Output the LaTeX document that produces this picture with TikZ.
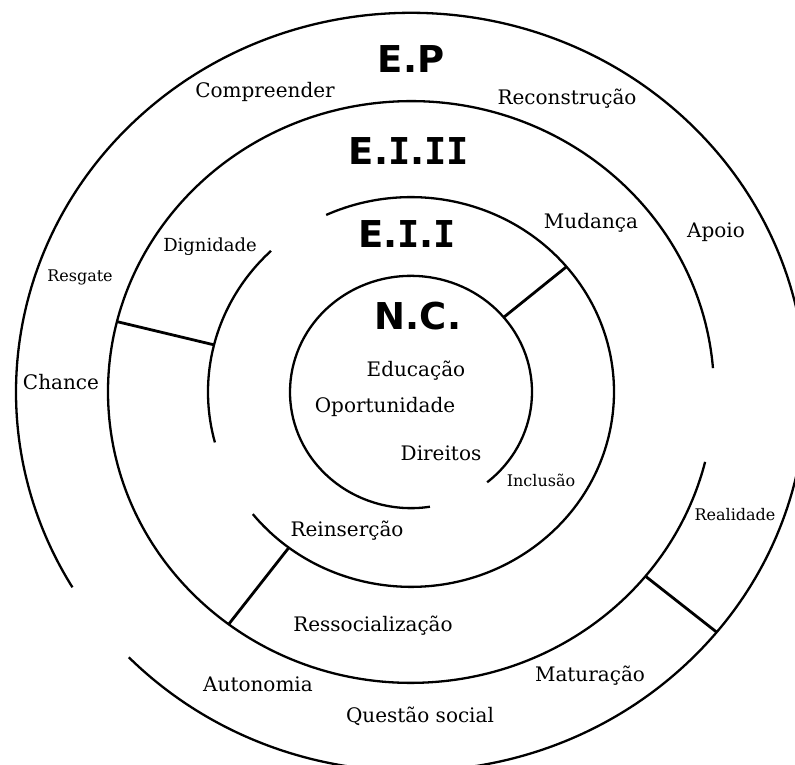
\documentclass[tikz,border=0pt]{standalone}
\usepackage{fontspec}
\setmainfont{DejaVu Serif}
\newfontfamily\headfont{DejaVu Sans}
\newfontfamily\headmono{DejaVu Sans Mono}
\newcommand\romI{{\headmono I}}
\tikzset{
  ring/.style={line width=2.3pt},
  spoke/.style={line width=2.8pt},
  head/.style={anchor=base, font=\headfont\bfseries\fontsize{37}{37}\selectfont},
  word/.style={anchor=base, font=\fontsize{20}{20}\selectfont},
  small word/.style={anchor=base, font=\fontsize{16}{16}\selectfont},
}
\begin{document}
\begin{tikzpicture}[x=1pt,y=1pt]
  \clip (0,0) rectangle (795,765);
  \begin{scope}[shift={(411,373)}, yscale=0.96]
    % outer ring E.P, open at lower left
    \draw[ring] (224.4:395pt) arc[start angle=224.4, end angle=571, radius=395pt];
    % ring E.I.II, open on the right
    \draw[ring] (4.7:303pt) arc[start angle=4.7, end angle=346.1, radius=303pt];
    % ring E.I.I, two pieces
    \draw[ring] (218.8:203pt) arc[start angle=218.8, end angle=474.7, radius=203pt];
    \draw[ring] (133.6:203pt) arc[start angle=133.6, end angle=195, radius=203pt];
    % core N.C.
    \draw[ring] (-51:121pt) arc[start angle=-51, end angle=279, radius=121pt];
    % spoke ends
    \coordinate (nc40) at (40:121pt);
    \coordinate (eii40) at (40:203pt);
    \coordinate (eii166) at (166:203pt);
    \coordinate (eiii166) at (166:303pt);
    \coordinate (eii233) at (233:203pt);
    \coordinate (eiii233) at (233:303pt);
    \coordinate (eiii321) at (-39.3:303pt);
    \coordinate (ep321) at (-39.3:395pt);
  \end{scope}
  \draw[spoke] (nc40) -- (eii40);
  \draw[spoke] (eii166) -- (eiii166);
  \draw[spoke] (eii233) -- (eiii233);
  \draw[spoke] (eiii321) -- (ep321);

  % ring titles
  \node[head] (ep) at (411,692) {E.P};
  \node[head] (eiii) at (409,600) {E.\romI.\romI\romI};
  \node[head] (eii) at (407,517) {E.\romI.\romI};
  \node[head] (nc) at (418,435) {N.C.};

  % core
  \node[word] (educacao) at (416,388) {Educação};
  \node[word] (oportunidade) at (385,352) {Oportunidade};
  \node[word] (direitos) at (441,304) {Direitos};
  \node[small word] (inclusao) at (541,278) {Inclusão};
  % E.I.I
  \node[word] (mudanca) at (591,536) {Mudança};
  \node[word, font=\fontsize{18}{18}\selectfont] (dignidade) at (210,513) {Dignidade};
  \node[word] (reinsercao) at (347,228) {Reinserção};
  % E.I.II
  \node[word] (compreender) at (265,667) {Compreender};
  \node[word] (reconstrucao) at (567,660) {Reconstrução};
  \node[word] (apoio) at (716,527) {Apoio};
  \node[small word] (resgate) at (80,483) {Resgate};
  \node[word] (chance) at (61,375) {Chance};
  \node[word] (ressocializacao) at (373,133) {Ressocialização};
  \node[small word] (realidade) at (735,244) {Realidade};
  % E.P
  \node[word] (autonomia) at (258,73) {Autonomia};
  \node[word] (questao) at (420,42) {Questão social};
  \node[word] (maturacao) at (590,83) {Maturação};
\end{tikzpicture}
\end{document}
